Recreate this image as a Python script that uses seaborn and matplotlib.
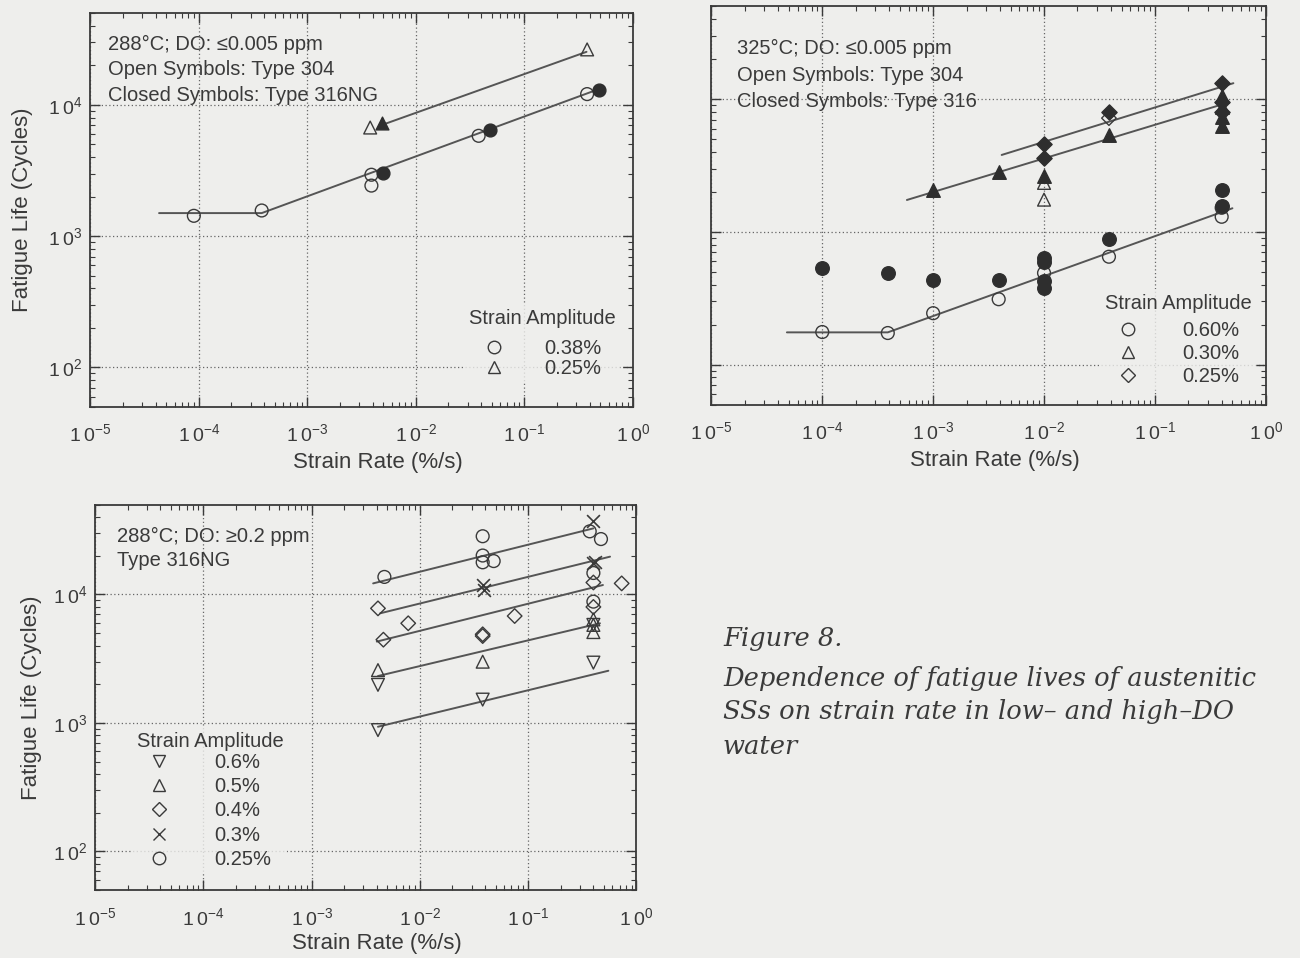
import matplotlib
matplotlib.use("Agg")
import matplotlib.pyplot as plt
import seaborn as sns
from matplotlib.lines import Line2D
from matplotlib.ticker import FixedLocator, LogLocator, NullFormatter

# ---------------- data ----------------
# Panel 1: 288°C, DO <= 0.005 ppm
p1_c304_x = [9.0e-5, 3.8e-4, 3.9e-3, 3.9e-3, 0.038, 0.38]
p1_c304_y = [1430, 1570, 2940, 2430, 5820, 12100]
p1_c316_x = [5.0e-3, 0.048, 0.49]
p1_c316_y = [3030, 6460, 13000]
p1_t304_x = [3.8e-3, 0.38]
p1_t304_y = [6730, 26500]
p1_t316_x = [4.9e-3]
p1_t316_y = [7260]
p1_fit_c_x = [4.3e-5, 3.8e-4, 0.48]
p1_fit_c_y = [1500, 1500, 13150]
p1_fit_t_x = [4.9e-3, 0.375]
p1_fit_t_y = [7050, 25400]

# Panel 2: 325°C, DO <= 0.005 ppm
p2_c304_x = [1e-4, 3.9e-4, 1e-3, 3.9e-3, 1e-2, 0.0385, 0.4, 0.4]
p2_c304_y = [176, 173, 244, 311, 490, 650, 1300, 1520]
p2_c316_x = [1e-4, 3.9e-4, 1e-3, 3.9e-3, 1e-2, 1e-2, 1e-2, 1e-2, 0.0385, 0.4, 0.4]
p2_c316_y = [532, 489, 434, 434, 636, 592, 425, 378, 883, 2060, 1560]
p2_t304_x = [1e-2, 1e-2]
p2_t304_y = [2340, 1750]
p2_t316_x = [1e-3, 3.9e-3, 1e-2, 0.0385, 0.4, 0.4, 0.4, 0.4]
p2_t316_y = [2075, 2850, 2650, 5380, 10500, 8800, 7400, 6250]
p2_d304_x = [0.0385]
p2_d304_y = [7200]
p2_d316_x = [1e-2, 1e-2, 0.0385, 0.4, 0.4, 0.4]
p2_d316_y = [4600, 3600, 8070, 13300, 9600, 8000]
p2_fit_c_x = [4.8e-5, 3.9e-4, 0.5]
p2_fit_c_y = [175, 175, 1507]
p2_fit_t_x = [5.8e-4, 0.44]
p2_fit_t_y = [1740, 9330]
p2_fit_d_x = [4.15e-3, 0.51]
p2_fit_d_y = [3800, 13200]

# Panel 3: 288°C, DO >= 0.2 ppm, Type 316NG
p3_a06_x = [4.1e-3, 4.1e-3, 0.038, 0.40, 0.40]
p3_a06_y = [880, 1980, 1520, 2950, 5800]
p3_a05_x = [4.1e-3, 0.038, 0.40, 0.40, 0.40]
p3_a05_y = [2580, 3000, 6400, 5800, 5100]
p3_a04_x = [4.1e-3, 4.6e-3, 7.8e-3, 0.038, 0.038, 0.075, 0.40, 0.40, 0.73]
p3_a04_y = [7800, 4450, 5970, 4900, 4750, 6800, 12400, 8000, 12200]
p3_a03_x = [0.038, 0.039, 0.40, 0.40, 0.41]
p3_a03_y = [11800, 10800, 37500, 17600, 18000]
p3_a025_x = [4.7e-3, 0.038, 0.038, 0.038, 0.048, 0.37, 0.47, 0.40, 0.40]
p3_a025_y = [13700, 28400, 20100, 17800, 18200, 31000, 27000, 14700, 8800]
p3_fit_x = {"0.25%": [3.7e-3, 0.40], "0.3%": [4.3e-3, 0.57], "0.4%": [4.0e-3, 0.49],
            "0.5%": [4.1e-3, 0.46], "0.6%": [4.1e-3, 0.55]}
p3_fit_y = {"0.25%": [12200, 32700], "0.3%": [7140, 19700], "0.4%": [4300, 11850],
            "0.5%": [2320, 5970], "0.6%": [935, 2550]}

xtick_vals = [1e-5, 1e-4, 1e-3, 1e-2, 1e-1, 1e0]
xtick_labels = [r"$\mathregular{1\,0^{-5}}$", r"$\mathregular{1\,0^{-4}}$", r"$\mathregular{1\,0^{-3}}$",
                r"$\mathregular{1\,0^{-2}}$", r"$\mathregular{1\,0^{-1}}$", r"$\mathregular{1\,0^{0}}$"]
ytick_vals = [1e2, 1e3, 1e4]
ytick_labels = [r"$\mathregular{1\,0^{2}}$", r"$\mathregular{1\,0^{3}}$", r"$\mathregular{1\,0^{4}}$"]

# ---------------- style ----------------
sns.set_style("ticks")
plt.rcParams['font.family'] = ['Liberation Sans', 'DejaVu Sans']
plt.rcParams['mathtext.fontset'] = 'custom'
plt.rcParams['mathtext.rm'] = 'Liberation Sans'

BG = "#eeeeec"
INK = "#3a3a3a"
LINE = "#555555"
FS = 14.5      # annotation / legend text
LFS = 16       # axis labels
TFS = 14       # tick labels
MS_S = 85      # scatter size (pt^2)

fig = plt.figure(figsize=(13, 9.58), dpi=100, facecolor=BG)


def setup_axes(rect, ylabels=True):
    ax = fig.add_axes(rect)
    ax.set_facecolor(BG)
    ax.set_xscale("log")
    ax.set_yscale("log")
    ax.set_xlim(1e-5, 1)
    ax.set_ylim(50, 5e4)
    ax.xaxis.set_major_locator(FixedLocator(xtick_vals))
    ax.set_xticklabels(xtick_labels)
    ax.xaxis.set_minor_locator(LogLocator(base=10, subs=range(2, 10), numticks=20))
    ax.xaxis.set_minor_formatter(NullFormatter())
    ax.yaxis.set_major_locator(FixedLocator(ytick_vals))
    if ylabels:
        ax.set_yticklabels(ytick_labels)
    else:
        ax.set_yticklabels([])
    ax.yaxis.set_minor_locator(LogLocator(base=10, subs=range(2, 10), numticks=20))
    ax.yaxis.set_minor_formatter(NullFormatter())
    ax.tick_params(which="both", direction="in", top=True, right=True, color=INK,
                   labelcolor=INK, labelsize=TFS)
    ax.tick_params(which="major", length=7, width=1.0)
    ax.tick_params(which="minor", length=3.5, width=0.8)
    ax.tick_params(axis="x", pad=12)
    ax.tick_params(axis="y", pad=6)
    for sp in ax.spines.values():
        sp.set_color(INK)
        sp.set_linewidth(1.3)
    ax.grid(True, which="major", linestyle=(0, (1, 2)), color="#666666", linewidth=0.9)
    ax.set_xlabel("Strain Rate (%/s)", fontsize=LFS, color=INK)
    if ylabels:
        ax.set_ylabel("Fatigue Life (Cycles)", fontsize=LFS, color=INK)
    return ax


def open_pts(ax, x, y, marker, s=MS_S):
    sns.scatterplot(x=x, y=y, marker=marker, s=s, facecolor="none", edgecolor=INK,
                    linewidth=1.0, ax=ax, zorder=4)


def filled_pts(ax, x, y, marker, s=MS_S):
    sns.scatterplot(x=x, y=y, marker=marker, s=s, color="#2e2e2e", edgecolor="#2e2e2e",
                    linewidth=1.0, ax=ax, zorder=4)


def fit(ax, x, y):
    sns.lineplot(x=x, y=y, color=LINE, linewidth=1.4, sort=False, estimator=None, ax=ax, zorder=3)


def handle(marker, ms=9):
    return Line2D([], [], marker=marker, linestyle="none", markerfacecolor="none",
                  markeredgecolor=INK, markeredgewidth=1.0, markersize=ms, color=INK)


def make_legend(ax, handles, labels, anchor, labelspacing, title_sep, textpad):
    leg = ax.legend(handles, labels, title="Strain Amplitude", loc="upper center",
                    bbox_to_anchor=anchor, frameon=True, fontsize=FS, title_fontsize=FS,
                    handlelength=1.0, handletextpad=textpad, labelspacing=labelspacing,
                    borderpad=0.2, borderaxespad=0)
    leg.get_frame().set_facecolor(BG)
    leg.get_frame().set_edgecolor("none")
    leg._legend_box.sep = title_sep
    for t in leg.get_texts() + [leg.get_title()]:
        t.set_color(INK)
    return leg


# ---------------- Panel 1 ----------------
ax1 = setup_axes([0.0695, 0.5752, 0.4172, 0.411])
fit(ax1, p1_fit_c_x, p1_fit_c_y)
fit(ax1, p1_fit_t_x, p1_fit_t_y)
open_pts(ax1, p1_c304_x, p1_c304_y, "o")
filled_pts(ax1, p1_c316_x, p1_c316_y, "o")
open_pts(ax1, p1_t304_x, p1_t304_y, "^")
filled_pts(ax1, p1_t316_x, p1_t316_y, "^")
ax1.text(0.032, 0.945, "288°C; DO: ≤0.005 ppm\nOpen Symbols: Type 304\nClosed Symbols: Type 316NG",
         transform=ax1.transAxes, va="top", ha="left", fontsize=FS, color=INK, linespacing=1.42)
make_legend(ax1, [handle("o"), handle("^")], ["0.38%", "0.25%"], (0.8335, 0.258), 0.05, 7.6, 2.0)
ax1.xaxis.set_label_coords(0.53, -0.114)
ax1.yaxis.set_label_coords(-0.106, 0.5)

# ---------------- Panel 2 ----------------
ax2 = setup_axes([0.5472, 0.5777, 0.4265, 0.4156], ylabels=False)
fit(ax2, p2_fit_c_x, p2_fit_c_y)
fit(ax2, p2_fit_t_x, p2_fit_t_y)
fit(ax2, p2_fit_d_x, p2_fit_d_y)
open_pts(ax2, p2_c304_x, p2_c304_y, "o")
filled_pts(ax2, p2_c316_x, p2_c316_y, "o", s=95)
open_pts(ax2, p2_t304_x, p2_t304_y, "^")
filled_pts(ax2, p2_t316_x, p2_t316_y, "^", s=95)
open_pts(ax2, p2_d304_x, p2_d304_y, "D", s=55)
filled_pts(ax2, p2_d316_x, p2_d316_y, "D", s=60)
ax2.text(0.046, 0.918, "325°C; DO: ≤0.005 ppm\nOpen Symbols: Type 304\nClosed Symbols: Type 316",
         transform=ax2.transAxes, va="top", ha="left", fontsize=FS, color=INK, linespacing=1.5)
make_legend(ax2, [handle("o"), handle("^"), handle("D", 7)], ["0.60%", "0.30%", "0.25%"],
            (0.843, 0.289), 0.2, 6.1, 2.2)
ax2.xaxis.set_label_coords(0.511, -0.114)

# ---------------- Panel 3 ----------------
ax3 = setup_axes([0.0731, 0.0708, 0.4165, 0.4024])
for key in ["0.25%", "0.3%", "0.4%", "0.5%", "0.6%"]:
    fit(ax3, p3_fit_x[key], p3_fit_y[key])
open_pts(ax3, p3_a06_x, p3_a06_y, "v")
open_pts(ax3, p3_a05_x, p3_a05_y, "^")
open_pts(ax3, p3_a04_x, p3_a04_y, "D", s=55)
sns.scatterplot(x=p3_a03_x, y=p3_a03_y, marker="x", s=MS_S, color=INK, linewidth=1.2,
                ax=ax3, zorder=4)
open_pts(ax3, p3_a025_x, p3_a025_y, "o")
ax3.text(0.041, 0.943, "288°C; DO: ≥0.2 ppm\nType 316NG",
         transform=ax3.transAxes, va="top", ha="left", fontsize=FS, color=INK, linespacing=1.35)
make_legend(ax3, [handle("v"), handle("^"), handle("D", 7), handle("x"), handle("o")],
            ["0.6%", "0.5%", "0.4%", "0.3%", "0.25%"], (0.2124, 0.422), 0.26, 1.8, 2.2)
ax3.xaxis.set_label_coords(0.521, -0.11)
ax3.yaxis.set_label_coords(-0.098, 0.5)

# ---------------- caption ----------------
cap_kw = dict(fontsize=18.5, style="italic", family=["DejaVu Serif"], color=INK, ha="left",
              va="baseline")
fig.text(723 / 1300, 1 - 646 / 958, "Figure 8.", **cap_kw)
fig.text(723 / 1300, 1 - 686 / 958, "Dependence of fatigue lives of austenitic", **cap_kw)
fig.text(723 / 1300, 1 - 719 / 958, "SSs on strain rate in low– and high–DO", **cap_kw)
fig.text(723 / 1300, 1 - 754 / 958, "water", **cap_kw)

fig.savefig("out.png", dpi=100, facecolor=BG)
